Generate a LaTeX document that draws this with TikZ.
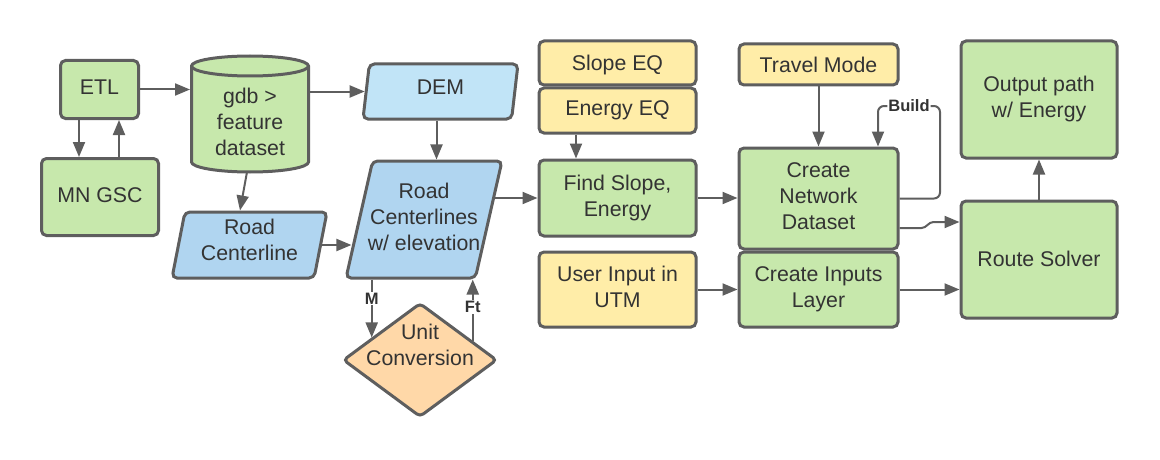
\documentclass[tikz,border=0pt]{standalone}
\usepackage{fontspec}
\setmainfont{Liberation Sans}
\usetikzlibrary{shapes.geometric,arrows.meta}
\definecolor{edge}{HTML}{5E5E5E}
\definecolor{ink}{HTML}{333333}
\definecolor{leaf}{HTML}{C7E8AC}
\definecolor{sky}{HTML}{C1E4F7}
\definecolor{lake}{HTML}{B0D5F0}
\definecolor{sand}{HTML}{FFEDA8}
\definecolor{peach}{HTML}{FFD8A8}
\newcommand\celltext[2][0pt]{\raisebox{#1}[\height][\depth]{\begin{tabular}{@{}c@{}}#2\end{tabular}}}
\tikzset{
  box/.style={draw=edge, line width=3pt, rounded corners=5pt, text=ink,
    font=\fontsize{21.3}{26}\selectfont, inner sep=2pt},
  proc/.style={box, fill=leaf},
  param/.style={box, fill=sand},
  data/.style={box, trapezium, trapezium stretches body},
  arr/.style={draw=edge, line width=2pt, -{Triangle[length=15pt,width=12pt]}},
  lbl/.style={fill=white, text=ink, font=\fontsize{16.5}{16.5}\selectfont\bfseries, inner sep=1pt},
}
\begin{document}
\begin{tikzpicture}[x=1pt,y=-1pt]
\useasboundingbox (0,0) rectangle (1160,460);

\node[proc, minimum width=78pt, minimum height=58pt] (etl) at (99.5,89.5) {\celltext{ETL}};
\node[proc, minimum width=117pt, minimum height=77pt] (mngsc) at (100,197) {\celltext{MN GSC}};

\filldraw[fill=leaf, draw=edge, line width=3pt] (191.5,66) -- (191.5,162) arc (180:360:58.5pt and 10pt)
  -- (308.5,66) arc (0:180:58.5pt and 10pt) -- cycle;
\draw[edge, line width=3pt] (191.5,66) arc (180:360:58.5pt and 10pt);
\node[box, draw=none, minimum width=117pt, minimum height=93pt] (gdb) at (250,124) {\celltext{gdb >\\feature\\dataset}};

\node[data, trapezium left angle=78, trapezium right angle=102, minimum width=155pt,
  minimum height=55pt, fill=sky] (dem) at (440.5,91.5) {\celltext[2pt]{DEM}};
\node[data, trapezium left angle=77, trapezium right angle=103, minimum width=155pt,
  minimum height=66pt, fill=lake] (rc) at (249.5,245) {\celltext[3pt]{Road\\Centerline}};
\node[data, trapezium left angle=72, trapezium right angle=108, minimum width=156pt,
  minimum height=117pt, inner xsep=-20pt, fill=lake] (elev) at (424,219.5) {\celltext{Road\\Centerlines\\w/ elevation}};
\node[box, diamond, aspect=1.345, inner sep=-6pt, rounded corners=4pt, minimum width=154pt,
  minimum height=114pt, fill=peach] (unit) at (420,360) {\celltext[13pt]{Unit\\Conversion}};

\node[param, minimum width=157pt, minimum height=44pt] (slope) at (617.5,63) {\celltext[-2.5pt]{Slope EQ}};
\node[param, minimum width=157pt, minimum height=45pt] (energy) at (617.5,110.5) {\celltext{Energy EQ}};
\node[proc, minimum width=157pt, minimum height=76pt] (find) at (617.5,198) {\celltext{Find Slope,\\Energy}};
\node[param, minimum width=157pt, minimum height=75pt] (user) at (617.5,289.5) {\celltext{User Input in\\UTM}};

\node[param, minimum width=159pt, minimum height=41pt] (travel) at (818.5,64.5) {\celltext[-3pt]{Travel Mode}};
\node[proc, minimum width=159pt, minimum height=101pt] (network) at (818.5,198.5) {\celltext{Create\\Network\\Dataset}};
\node[proc, minimum width=159pt, minimum height=75pt] (inputs) at (818.5,289.5) {\celltext{Create Inputs\\Layer}};

\node[proc, minimum width=156pt, minimum height=117pt] (output) at (1039,99.5) {\celltext{Output path\\w/ Energy}};
\node[proc, minimum width=156pt, minimum height=117pt] (solver) at (1039,259.5) {\celltext[-1.5pt]{Route Solver}};

\coordinate (buildtop) at (940,106);

\draw[arr] ([xshift=-20.5pt]etl.south) -- ([xshift=-20.5pt]etl.south |- mngsc.north);
\draw[arr] ([xshift=19pt]mngsc.north) -- ([xshift=19pt]mngsc.north |- etl.south);
\draw[arr] (etl.east) -- (etl.east -| gdb.west);
\draw[arr] (dem.180 -| gdb.east) -- (dem.180);
\draw[arr] ([xshift=-3pt]gdb.south) -- ([xshift=-10pt]gdb.south |- rc.north);
\draw[arr] ([xshift=-4pt]dem.center |- dem.south) -- ([xshift=-4pt]dem.center |- elev.north);
\draw[arr] (rc.0) -- (rc.0 -| elev.201);
\draw[arr] (find.west -| elev.17) -- (find.west);
\draw[arr] (unit.155 |- elev.south) -- node[lbl, pos=0.33]{M} (unit.155);
\draw[arr] (unit.20) -- node[lbl, pos=0.55]{Ft} (unit.20 |- elev.south);
\draw[arr] ([xshift=-41.5pt]energy.south) -- ([xshift=-41.5pt]find.north);
\draw[arr] (find.east) -- (find.east -| network.west);
\draw[arr] (travel.south) -- (network.north);
\draw[arr] (user.east) -- (user.east -| inputs.west);
\draw[arr] (inputs.east) -- (inputs.east -| solver.west);
\draw[arr] (solver.north) -- (output.south);
\draw[arr] ([yshift=-29.5pt]network.east) -- ++(22,0) to[out=0,in=180] ++(12,-6) -- ([yshift=37.5pt]solver.west);
\draw[arr, rounded corners=6pt] (network.east) -| (buildtop) -- node[lbl]{Build}
  ([xshift=59.5pt]network.north |- buildtop) -- ([xshift=59.5pt]network.north);
\end{tikzpicture}
\end{document}
